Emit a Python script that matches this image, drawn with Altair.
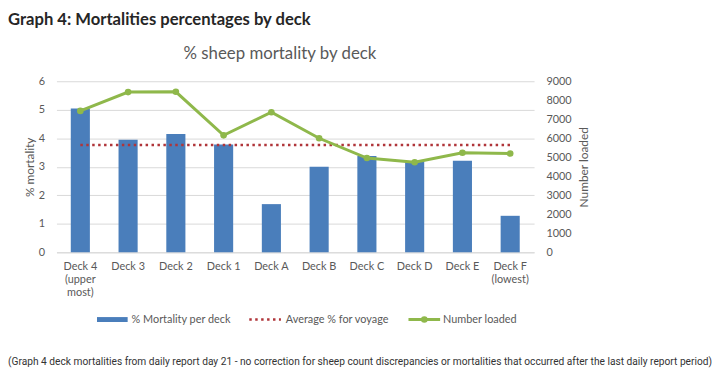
import altair as alt
import pandas as pd

decks = ["Deck 4\n(upper\nmost)", "Deck 3", "Deck 2", "Deck 1", "Deck A",
         "Deck B", "Deck C", "Deck D", "Deck E", "Deck F\n(lowest)"]
mortality_pct = [5.04, 3.95, 4.15, 3.78, 1.69, 3.0, 3.38, 3.2, 3.21, 1.28]
number_loaded = [7440, 8430, 8445, 6155, 7370, 6000, 4960, 4740, 5240, 5200]
average_pct = 3.76

left_ticks = [0, 1, 2, 3, 4, 5, 6]
right_ticks = [0, 1000, 2000, 3000, 4000, 5000, 6000, 7000, 8000, 9000]

main_title = "Graph 4: Mortalities percentages by deck"
chart_title = "% sheep mortality by deck"
footnote = ("(Graph 4 deck mortalities from daily report day 21 - no correction for sheep count "
            "discrepancies or mortalities that occurred after the last daily report period)")
legend_labels = ["% Mortality per deck", "Average % for voyage", "Number loaded"]

BLUE = "#4A7EBB"
GREEN = "#8FB84B"
RED = "#B0353A"
GRAY = "#595959"
FONT = "Lato"

df = pd.DataFrame({
    "deck": decks,
    "mortality": mortality_pct,
    "loaded": number_loaded,
    "avg": [average_pct] * len(decks),
})

x_enc = alt.X("deck:N", sort=decks,
              scale=alt.Scale(paddingInner=0.6, paddingOuter=0.3),
              axis=alt.Axis(title=None, labelAngle=0, ticks=False, domain=True,
                            domainColor="#D9D9D9", labelPadding=8,
                            labelLineHeight=13.5,
                            labelExpr="split(datum.label, '\\n')"))

bars = alt.Chart(df).mark_bar(color=BLUE).encode(
    x=x_enc,
    y=alt.Y("mortality:Q", scale=alt.Scale(domain=[0, 6], nice=False),
            axis=alt.Axis(title="% mortality", values=left_ticks, grid=True,
                          gridColor="#D9D9D9", domain=False, ticks=False,
                          labelPadding=12, titlePadding=2)),
)

avg_line = alt.Chart(df).mark_line(color=RED, strokeDash=[2.5, 3.5], strokeWidth=2.5).encode(
    x=alt.X("deck:N", sort=decks),
    y=alt.Y("avg:Q", scale=alt.Scale(domain=[0, 6], nice=False), axis=None),
)

loaded_line = alt.Chart(df).mark_line(
    color=GREEN, strokeWidth=3,
    point=alt.OverlayMarkDef(color=GREEN, size=45, filled=True, opacity=1)
).encode(
    x=alt.X("deck:N", sort=decks),
    y=alt.Y("loaded:Q", scale=alt.Scale(domain=[0, 9000], nice=False),
            axis=alt.Axis(title="Number loaded", orient="right", values=right_ticks,
                          format="d", grid=False, domain=False, ticks=False,
                          labelPadding=12, titlePadding=8, titleAngle=270,
                          titleBaseline="top")),
)

one = pd.DataFrame({"k": [0]})

t_main = alt.Chart(one).mark_text(
    text=main_title, font=FONT, fontSize=16.8, fontWeight="bold", color="#262626",
    align="left", baseline="middle"
).encode(x=alt.value(-49), y=alt.value(-62))

t_chart = alt.Chart(one).mark_text(
    text=chart_title, font=FONT, fontSize=17, color=GRAY,
    align="center", baseline="middle"
).encode(x=alt.value(226), y=alt.value(-27))

t_foot = alt.Chart(one).mark_text(
    text=footnote, font="Roboto", fontSize=10.3, color="#333333",
    align="center", baseline="middle"
).encode(x=alt.value(307), y=alt.value(284))

leg_y = 241
leg_bar = alt.Chart(one).mark_rect(color=BLUE).encode(
    x=alt.value(41), x2=alt.value(72), y=alt.value(leg_y - 2.5), y2=alt.value(leg_y + 2.5))
leg_bar_t = alt.Chart(one).mark_text(
    text=legend_labels[0], font=FONT, fontSize=11, color=GRAY, align="left", baseline="middle"
).encode(x=alt.value(76), y=alt.value(leg_y))

leg_avg = alt.Chart(one).mark_rule(color=RED, strokeDash=[2.5, 3.5], strokeWidth=2.5).encode(
    x=alt.value(195), x2=alt.value(227), y=alt.value(leg_y))
leg_avg_t = alt.Chart(one).mark_text(
    text=legend_labels[1], font=FONT, fontSize=11, color=GRAY, align="left", baseline="middle"
).encode(x=alt.value(232), y=alt.value(leg_y))

leg_ln = alt.Chart(one).mark_rule(color=GREEN, strokeWidth=3).encode(
    x=alt.value(356), x2=alt.value(388), y=alt.value(leg_y))
leg_pt = alt.Chart(one).mark_point(color=GREEN, filled=True, size=45, opacity=1, shape="circle").encode(
    x=alt.value(372), y=alt.value(leg_y))
leg_ln_t = alt.Chart(one).mark_text(
    text=legend_labels[2], font=FONT, fontSize=11, color=GRAY, align="left", baseline="middle"
).encode(x=alt.value(391), y=alt.value(leg_y))

chart = alt.layer(
    bars, avg_line, loaded_line,
    t_main, t_chart, t_foot,
    leg_bar, leg_bar_t, leg_avg, leg_avg_t, leg_ln, leg_pt, leg_ln_t,
).resolve_scale(y="independent").properties(
    width=483, height=173,
    autosize=alt.AutoSizeParams(type="none"),
    padding={"left": 49, "top": 72, "right": 185, "bottom": 120},
).configure_view(stroke=None).configure_axis(
    labelFont=FONT, labelFontSize=11, labelColor=GRAY,
    titleFont=FONT, titleFontSize=12, titleColor=GRAY, titleFontWeight="normal",
)

chart.save("out.html", embed_options={"renderer": "svg", "actions": False})
